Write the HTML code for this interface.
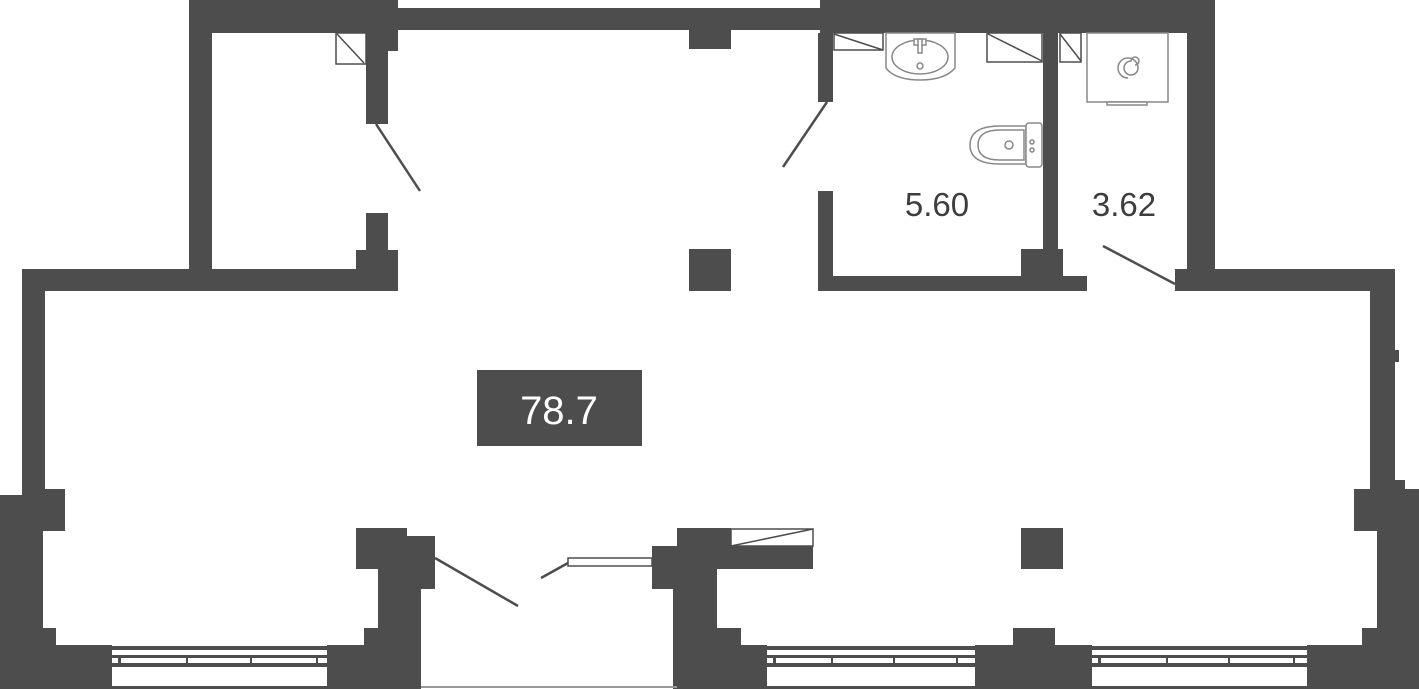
<!DOCTYPE html>
<html><head><style>
html,body{margin:0;padding:0;background:#fff;}
svg{display:block;}
text{font-family:"Liberation Sans",sans-serif;}
</style></head><body>
<svg width="1419" height="689" viewBox="0 0 1419 689" xmlns="http://www.w3.org/2000/svg">
<g fill="#4d4d4d">
<!-- top-left room -->
<rect x="189" y="0" width="23" height="291"/>
<rect x="189" y="0" width="209" height="33"/>
<rect x="397" y="8" width="425" height="22"/>
<rect x="366" y="33" width="22" height="91"/>
<rect x="388" y="33" width="10" height="18"/>
<rect x="366" y="213" width="22" height="40"/>
<rect x="356" y="250" width="42" height="41"/>
<rect x="689" y="30" width="42" height="19"/>
<rect x="689" y="249" width="42" height="42"/>
<!-- bathrooms -->
<rect x="820" y="0" width="395" height="33"/>
<rect x="818" y="33" width="15" height="69"/>
<rect x="818" y="191" width="15" height="100"/>
<rect x="818" y="276" width="269" height="15"/>
<rect x="1021" y="249" width="42" height="30"/>
<rect x="1043" y="33" width="15" height="218"/>
<rect x="1187" y="33" width="28" height="258"/>
<rect x="1175" y="269" width="40" height="22"/>
<!-- main top wall -->
<rect x="22" y="269" width="376" height="22"/>
<rect x="1175" y="269" width="220" height="22"/>
<!-- left wall -->
<rect x="22" y="269" width="23" height="226"/>
<rect x="0" y="495" width="43" height="194"/>
<rect x="22" y="480" width="21" height="20"/>
<rect x="43" y="489" width="22" height="42"/>
<rect x="43" y="628" width="13" height="20"/>
<rect x="0" y="645" width="112" height="44"/>
<!-- right wall -->
<rect x="1370" y="269" width="25" height="220"/>
<rect x="1395" y="350" width="4" height="12"/>
<rect x="1377" y="480" width="28" height="209"/>
<rect x="1405" y="489" width="14" height="200"/>
<rect x="1354" y="489" width="23" height="42"/>
<rect x="1362" y="628" width="18" height="20"/>
<rect x="1307" y="645" width="112" height="44"/>
<!-- central piers -->
<rect x="356" y="528" width="51" height="41"/>
<rect x="407" y="536" width="28" height="53"/>
<rect x="378" y="569" width="43" height="120"/>
<rect x="364" y="628" width="14" height="61"/>
<rect x="327" y="645" width="40" height="44"/>
<rect x="652" y="546" width="25" height="43"/>
<rect x="677" y="528" width="54" height="18"/>
<rect x="677" y="546" width="136" height="23"/>
<rect x="673" y="569" width="44" height="120"/>
<rect x="700" y="628" width="41" height="20"/>
<rect x="700" y="645" width="67" height="44"/>
<rect x="1021" y="528" width="42" height="41"/>
<rect x="975" y="645" width="117" height="44"/>
<rect x="1013" y="628" width="42" height="20"/>
<!-- area label -->
<rect x="477" y="370" width="165" height="76"/>
</g>
<!-- windows -->
<g fill="#4d4d4d">
<rect x="112" y="646" width="215" height="4"/>
<rect x="112" y="655" width="215" height="3"/>
<rect x="112" y="663" width="215" height="4"/>
<rect x="112" y="686" width="215" height="3"/>
<rect x="767" y="646" width="208" height="4"/>
<rect x="767" y="655" width="208" height="3"/>
<rect x="767" y="663" width="208" height="4"/>
<rect x="767" y="686" width="208" height="3"/>
<rect x="1092" y="646" width="215" height="4"/>
<rect x="1092" y="655" width="215" height="3"/>
<rect x="1092" y="663" width="215" height="4"/>
<rect x="1092" y="686" width="215" height="3"/>
<rect x="421" y="686" width="256" height="2" fill="#999"/>
</g>
<g fill="#4d4d4d">
<rect x="118" y="658" width="3" height="5"/><rect x="186" y="658" width="2" height="5"/><rect x="250" y="658" width="2" height="5"/><rect x="316" y="658" width="2" height="5"/>
<rect x="773" y="658" width="3" height="5"/><rect x="831" y="658" width="2" height="5"/><rect x="893" y="658" width="2" height="5"/><rect x="956" y="658" width="2" height="5"/>
<rect x="1098" y="658" width="3" height="5"/><rect x="1166" y="658" width="2" height="5"/><rect x="1228" y="658" width="2" height="5"/><rect x="1293" y="658" width="2" height="5"/>
</g>
<!-- doors -->
<g stroke="#4d4d4d" stroke-width="2.5" fill="none">
<line x1="376" y1="124" x2="420" y2="191"/>
<line x1="827" y1="102" x2="783" y2="167"/>
<line x1="1103" y1="246" x2="1175" y2="284"/>
<line x1="435" y1="558" x2="518" y2="606"/>
<line x1="568" y1="563" x2="541" y2="578"/>
</g>
<g stroke="#4d4d4d" stroke-width="1.5" fill="#fff">
<rect x="568" y="558" width="84" height="8"/>
<rect x="731" y="529" width="82" height="17"/>
<line x1="731" y1="546" x2="813" y2="529"/>
<rect x="336" y="33" width="30" height="31"/>
<line x1="337" y1="34" x2="364" y2="63"/>
<rect x="834" y="33" width="49" height="17"/>
<line x1="834" y1="34" x2="883" y2="50"/>
<rect x="987" y="33" width="55" height="29"/>
<line x1="988" y1="34" x2="1042" y2="61"/>
<rect x="1060" y="33" width="21" height="29"/>
<line x1="1060" y1="34" x2="1081" y2="61"/>
</g>
<!-- fixtures -->
<g stroke="#888" stroke-width="1.5" fill="#fff">
<path d="M886 33 L955 33 L955 68 Q945 80 920 80 Q895 80 886 68 Z"/>
<ellipse cx="920" cy="57" rx="28" ry="17"/>
<rect x="914" y="39" width="12" height="6"/><rect x="918" y="39" width="4" height="14"/>
<circle cx="920" cy="66" r="3"/>
<rect x="1087" y="33" width="81" height="69"/>
<rect x="1107" y="102" width="40" height="3"/>
<path d="M1128 78 a10 10 0 1 1 10 -10 a7 7 0 1 1 -7 -7 a4 4 0 1 1 4 4" />
<path d="M1026 126 L1000 126 Q970 126 970 145 Q970 164 1000 164 L1026 164 Z"/>
<path d="M1024 130 L1000 130 Q978 130 978 145 Q978 160 1000 160 L1024 160 Z"/>
<rect x="1026" y="123" width="16" height="44" rx="3"/>
<circle cx="1009" cy="145" r="4"/>
<circle cx="1032" cy="142" r="2"/><circle cx="1032" cy="150" r="2"/>
</g>
<text x="937" y="216" font-size="33" fill="#3d3d3d" text-anchor="middle">5.60</text>
<text x="1124" y="216" font-size="33" fill="#3d3d3d" text-anchor="middle">3.62</text>
<text x="559" y="424" font-size="40" fill="#fff" text-anchor="middle">78.7</text>
</svg>
</body></html>
